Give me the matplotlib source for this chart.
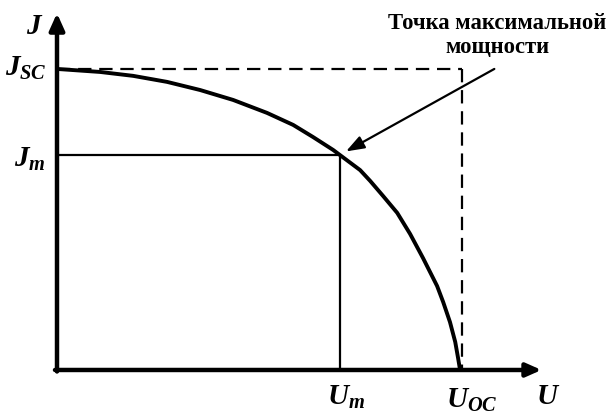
import matplotlib
matplotlib.use('Agg')
import matplotlib.pyplot as plt

# Вольт-амперная характеристика (нормировано: U_OC = 1, J_SC = 1)
u = [0.0, 0.107, 0.189, 0.273, 0.355, 0.437, 0.521, 0.586, 0.635, 0.685, 0.702,
     0.752, 0.777, 0.809, 0.844, 0.876, 0.908, 0.943, 0.958, 0.975, 0.988, 0.995, 1.0]
j = [1.0, 0.990, 0.977, 0.957, 0.930, 0.897, 0.854, 0.814, 0.774, 0.731, 0.714,
     0.664, 0.628, 0.578, 0.522, 0.452, 0.372, 0.279, 0.226, 0.159, 0.093, 0.040, 0.0]
u_m, j_m = 0.702, 0.714
u_oc, j_sc = 1.005, 1.0

plt.rcParams['mathtext.fontset'] = 'custom'
plt.rcParams['mathtext.it'] = 'Liberation Serif:bold:italic'
plt.rcParams['mathtext.rm'] = 'Liberation Serif:bold:italic'
plt.rcParams['mathtext.bf'] = 'Liberation Serif:bold:italic'

fig = plt.figure(figsize=(6.08, 4.13), dpi=100)
ax = fig.add_axes([0, 0, 1, 1])
ax.set_xlim(-0.1414, 1.367)
ax.set_ylim(-0.1429, 1.229)
ax.axis('off')

# оси со стрелками
ax.annotate('', xy=(0, 1.185), xytext=(0, -0.005),
            arrowprops=dict(arrowstyle='-|>,head_length=1.0,head_width=0.45', lw=3.2, color='black',
                            shrinkA=0, shrinkB=0))
ax.annotate('', xy=(1.202, 0), xytext=(-0.005, 0),
            arrowprops=dict(arrowstyle='-|>,head_length=0.9,head_width=0.4', lw=3.2, color='black',
                            shrinkA=0, shrinkB=0))

# пунктир J_SC и U_OC
ax.plot([0, u_oc], [j_sc, j_sc], '--', color='black', lw=1.6, dashes=(6, 3.5))
ax.plot([u_oc, u_oc], [j_sc, 0], '--', color='black', lw=1.6, dashes=(6, 3.5))

# прямоугольник точки максимальной мощности
ax.plot([0, u_m, u_m], [j_m, j_m, 0], color='black', lw=1.6)

# кривая
ax.plot(u, j, color='black', lw=2.8, solid_capstyle='round', solid_joinstyle='round')

# стрелка к точке
ax.annotate('', xy=(u_m + 0.015, j_m + 0.012), xytext=(1.085, 1.0),
            arrowprops=dict(arrowstyle='-|>,head_length=1.1,head_width=0.4', lw=1.6, color='black',
                            shrinkA=0, shrinkB=0))

ax.text(1.093, 1.111, 'Точка максимальной\nмощности', ha='center', va='center',
        family='Liberation Serif', weight='bold', fontsize=16.3, linespacing=1.2)

fs = 21
ax.text(-0.055, 1.142, r'$J$', ha='center', va='center', fontsize=fs)
ax.text(-0.077, 1.003, r'$J_{SC}$', ha='center', va='center', fontsize=fs)
ax.text(-0.068, 0.70, r'$J_{m}$', ha='center', va='center', fontsize=fs)
ax.text(0.717, -0.09, r'$U_{m}$', ha='center', va='center', fontsize=fs)
ax.text(1.03, -0.10, r'$U_{OC}$', ha='center', va='center', fontsize=fs)
ax.text(1.218, -0.088, r'$U$', ha='center', va='center', fontsize=fs)

plt.savefig('out.png', dpi=100)
